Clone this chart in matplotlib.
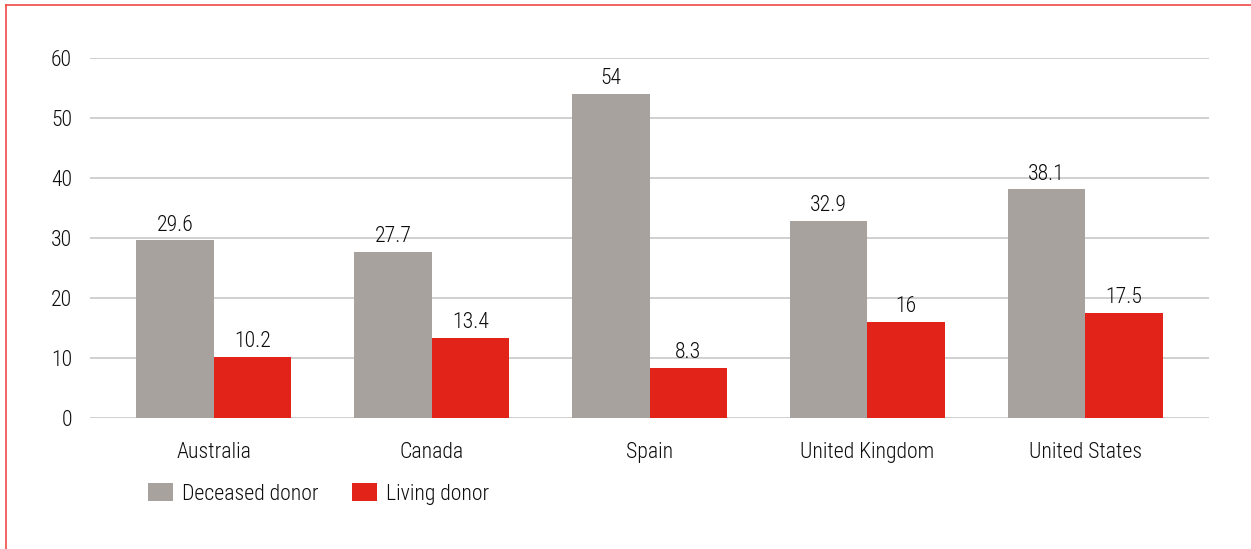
import matplotlib
matplotlib.use("Agg")
import matplotlib.pyplot as plt
from matplotlib.patches import Patch
from matplotlib.lines import Line2D
import numpy as np

countries = ["Australia", "Canada", "Spain", "United Kingdom", "United States"]
deceased = [29.6, 27.7, 54, 32.9, 38.1]
living = [10.2, 13.4, 8.3, 16, 17.5]
deceased_labels = ["29.6", "27.7", "54", "32.9", "38.1"]
living_labels = ["10.2", "13.4", "8.3", "16", "17.5"]
y_ticks = [0, 10, 20, 30, 40, 50, 60]

GREY = "#A7A29E"
RED = "#E2231A"
TEXT = "#0d0d0d"
FS = 15.7

plt.rcParams["font.family"] = ["Roboto Condensed", "Fira Sans Condensed", "PT Sans Narrow",
                               "Archivo Narrow", "Liberation Sans Narrow", "Liberation Sans",
                               "DejaVu Sans"]
plt.rcParams["font.weight"] = "light"

fig = plt.figure(figsize=(12.51, 5.49), dpi=100)
ax = fig.add_axes([90 / 1251, 1 - 418 / 549, (1209 - 90) / 1251, 360 / 549])

x = np.arange(len(countries))
w = 0.356
b1 = ax.bar(x - w / 2, deceased, w, color=GREY, zorder=3)
b2 = ax.bar(x + w / 2, living, w, color=RED, zorder=3)

for bars, labels in ((b1, deceased_labels), (b2, living_labels)):
    for rect, lab in zip(bars, labels):
        ax.annotate(lab, (rect.get_x() + rect.get_width() / 2, rect.get_height()),
                    xytext=(0, 3.5), textcoords="offset points", ha="center", va="bottom",
                    fontsize=FS, color=TEXT)

ax.set_xlim(-0.569, len(countries) - 1 + 0.569)
ax.set_ylim(0, 60)
ax.set_yticks(y_ticks)
ax.set_xticks(x)
ax.set_xticklabels(countries)
ax.tick_params(axis="both", length=0, labelsize=FS, colors=TEXT)
ax.tick_params(axis="y", pad=13)
ax.tick_params(axis="x", pad=17.5)
ax.grid(axis="y", color="#d0d0d0", linewidth=1.4, zorder=0)
for s in ax.spines.values():
    s.set_visible(False)

handles = [Patch(facecolor=GREY, edgecolor="none", label="Deceased donor"),
           Patch(facecolor=RED, edgecolor="none", label="Living donor")]
fig.legend(handles=handles, loc="center left", bbox_to_anchor=(128 / 1251, 1 - 494 / 549),
           ncol=2, frameon=False, fontsize=FS, handlelength=1.15, handleheight=0.87,
           handletextpad=0.41, columnspacing=1.55, labelcolor=TEXT)

# red frame along the top and left edges
fig.add_artist(Line2D([6 / 1251, 1], [1 - 5 / 549, 1 - 5 / 549], color="#EE4B45", linewidth=1.2,
                      transform=fig.transFigure))
fig.add_artist(Line2D([6 / 1251, 6 / 1251], [0, 1 - 5 / 549], color="#EE4B45", linewidth=1.2,
                      transform=fig.transFigure))

fig.savefig("out.png", dpi=100)
